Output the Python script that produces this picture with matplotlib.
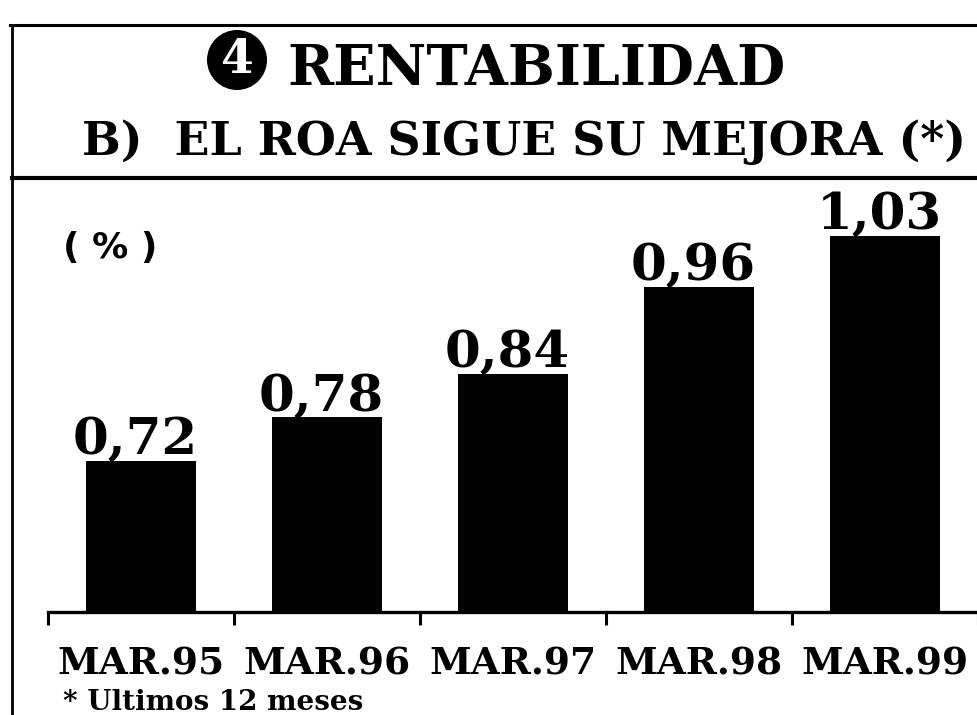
import matplotlib
matplotlib.use("Agg")
import matplotlib.pyplot as plt
from matplotlib.lines import Line2D
from matplotlib.patches import Circle

categories = ["MAR.95", "MAR.96", "MAR.97", "MAR.98", "MAR.99"]
roa = [0.72, 0.78, 0.84, 0.96, 1.03]
value_labels = ["0,72", "0,78", "0,84", "0,96", "1,03"]

SERIF = "DejaVu Serif"
SANS = "DejaVu Sans"

fig = plt.figure(figsize=(9.78, 7.15), dpi=100)
fig.patch.set_facecolor("white")

ax = fig.add_axes([0.049, 0.144, 0.951, 0.590])
x = list(range(len(categories)))
ax.bar(x, roa, width=0.59, color="black", edgecolor="none")
ax.set_xlim(-0.5, 4.5)
ax.set_ylim(0.512, 1.093)

for xi, v, lab in zip(x, roa, value_labels):
    ax.annotate(lab, (xi, v), xytext=(-4, 5), textcoords="offset points",
                ha="center", va="baseline", fontsize=37, fontweight="bold",
                family=SERIF, color="black")

for s in ["top", "right", "left"]:
    ax.spines[s].set_visible(False)
ax.spines["bottom"].set_linewidth(2.4)
ax.set_yticks([])
ax.set_xticks(x)
ax.set_xticklabels(categories, fontsize=27, fontweight="bold", family=SERIF)
ax.tick_params(axis="x", which="major", length=0, pad=24)
ax.set_xticks([i - 0.5 for i in range(len(categories) + 1)], minor=True)
ax.tick_params(axis="x", which="minor", direction="out", length=9, width=2.2)

# header: black disc with white number
fig.add_artist(Circle((237 / 100, (715 - 60) / 100), 0.30, transform=fig.dpi_scale_trans,
                      facecolor="black", edgecolor="none"))
fig.text(237 / 978, 1 - 60 / 715, "4", ha="center", va="center", color="white",
         fontsize=34, fontweight="bold", family=SERIF)
fig.text(537 / 978, 1 - 85 / 715, "RENTABILIDAD", ha="center", va="baseline",
         fontsize=40, fontweight="bold", family=SERIF)
fig.text(524 / 978, 1 - 155 / 715, "B)  EL ROA SIGUE SU MEJORA (*)", ha="center",
         va="baseline", fontsize=33, fontweight="bold", family=SERIF)
fig.text(63 / 978, 1 - 258 / 715, "( % )", ha="left", va="baseline",
         fontsize=26, fontweight="bold", family=SANS)
fig.text(63 / 978, 1 - 710 / 715, "* Ultimos 12 meses", ha="left", va="baseline",
         fontsize=20, fontweight="bold", family=SERIF)

# frame lines
fig.add_artist(Line2D([0.010, 1.0], [1 - 25 / 715, 1 - 25 / 715], color="black", lw=2.2))
fig.add_artist(Line2D([12 / 978, 12 / 978], [1 - 25 / 715, 0.0], color="black", lw=2.0))
fig.add_artist(Line2D([12 / 978, 1.0], [1 - 178 / 715, 1 - 178 / 715], color="black", lw=3.0))

fig.savefig("out.png", dpi=100, facecolor="white")
